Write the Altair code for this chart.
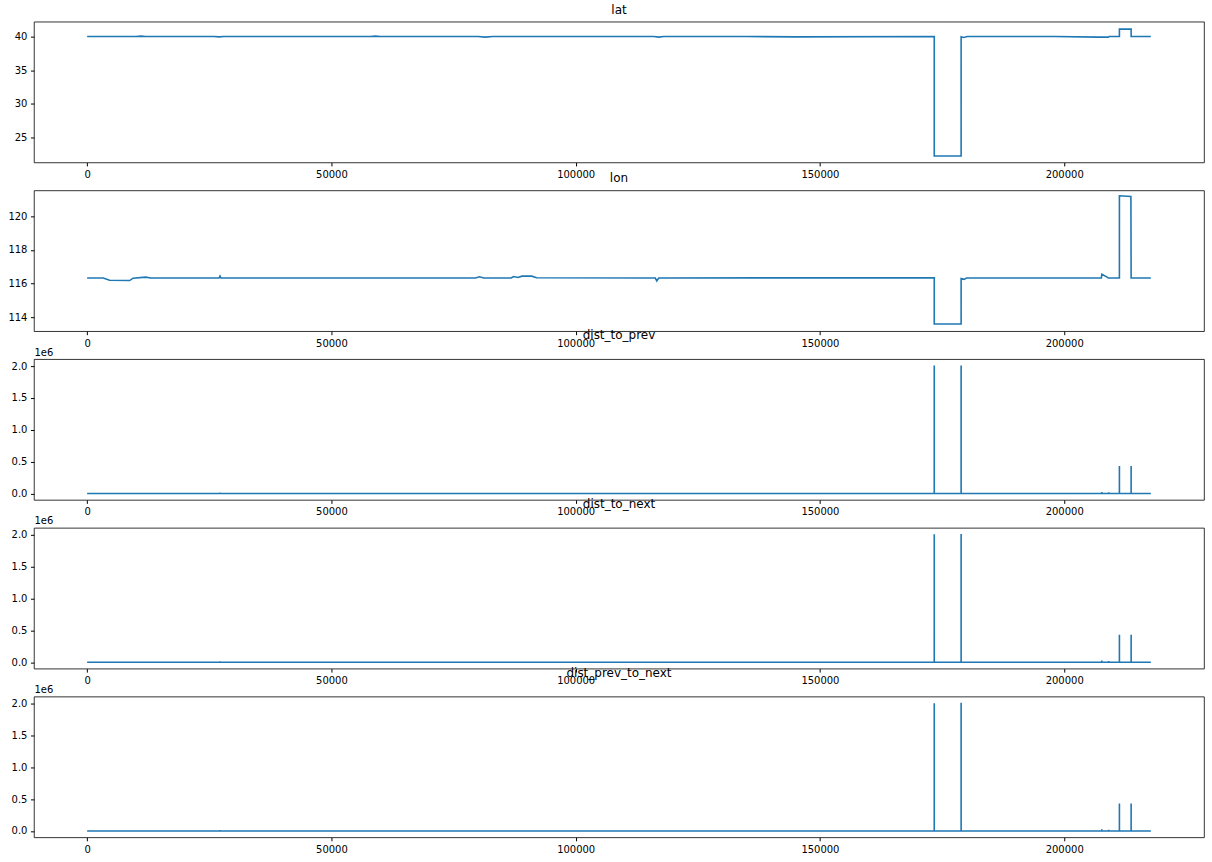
import altair as alt
import pandas as pd

# ---- data ----
lat_idx = [0, 10000, 11000, 12000, 26000, 27000, 28000, 58000, 59000, 60000, 80000, 81500, 83000,
           116000, 117000, 118000, 135000, 145000, 173399, 173400, 178900, 178901, 179400, 180200,
           198000, 207000, 209000, 209200, 211299, 211300, 213699, 213700, 217730]
lat_val = [40.0, 40.0, 40.06, 40.0, 40.0, 39.95, 40.0, 40.0, 40.06, 40.0, 40.0, 39.9, 40.0,
           40.0, 39.9, 40.0, 40.0, 39.95, 40.0, 22.26, 22.26, 39.95, 39.85, 40.0,
           40.0, 39.9, 39.9, 40.0, 40.0, 41.1, 41.1, 40.0, 40.0]

lon_idx = [0, 3300, 4600, 8700, 9400, 12000, 13000, 27000, 27200, 27400, 79500, 80300, 81200,
           86800, 87300, 88200, 89000, 91000, 92000, 116300, 116600, 117000, 173399, 173400,
           178900, 178901, 179500, 180000, 207600, 207700, 208700, 209000, 211299, 211300,
           213650, 213700, 217730]
lon_val = [116.33, 116.33, 116.2, 116.18, 116.32, 116.38, 116.33, 116.33, 116.45, 116.33, 116.33, 116.4, 116.33,
           116.33, 116.42, 116.36, 116.44, 116.44, 116.35, 116.33, 116.16, 116.33, 116.35, 113.6,
           113.6, 116.3, 116.25, 116.33, 116.33, 116.55, 116.4, 116.33, 116.33, 121.22,
           121.18, 116.33, 116.33]

dist_idx = [0, 27199, 27200, 27201, 173399, 173400, 173401, 178899, 178900, 178901,
            207699, 207700, 207701, 209099, 209100, 209101, 211299, 211300, 211301,
            213699, 213700, 213701, 217730]
dist_prev_val = [0, 0, 15000, 0, 0, 2010000, 0, 0, 2010000, 0,
                 0, 25000, 0, 0, 20000, 0, 0, 430000, 0,
                 0, 430000, 0, 0]
dist_next_val = [0, 0, 15000, 0, 0, 2010000, 0, 0, 2015000, 0,
                 0, 25000, 0, 0, 20000, 0, 0, 430000, 0,
                 0, 430000, 0, 0]
dist_pn_val = [0, 0, 15000, 0, 0, 2005000, 0, 0, 2015000, 0,
               0, 25000, 0, 0, 20000, 0, 0, 430000, 0,
               0, 430000, 0, 0]

x_ticks = [0, 50000, 100000, 150000, 200000]
x_domain = [-10886, 228616]

FONT = "DejaVu Sans"
BLUE = "#1f77b4"
W, H = 1172, 141


def panel(name, idx, val, y_domain, y_ticks, sci=False):
    df = pd.DataFrame({"idx": idx, "val": val})
    yaxis_kw = dict(values=y_ticks, grid=False, domain=False, tickSize=3.5, tickColor="black",
                    labelColor="black", labelFontSize=10, labelFont=FONT, labelPadding=3.5)
    if sci:
        yaxis_kw.update(labelExpr="format(datum.value/1000000, '.1f')", title="1e6",
                        titleAngle=0, titleAlign="left", titleBaseline="bottom",
                        titleX=0, titleY=-2, titleFontSize=10, titleFontWeight="normal",
                        titleFont=FONT, titleColor="black")
    else:
        yaxis_kw.update(title=None)
    return alt.Chart(df).mark_line(color=BLUE, strokeWidth=1.6, clip=True).encode(
        x=alt.X("idx:Q", scale=alt.Scale(domain=x_domain, nice=False, zero=False),
                axis=alt.Axis(values=x_ticks, format="d", title=None, grid=False, domain=False,
                              tickSize=3.5, tickColor="black", labelColor="black",
                              labelFontSize=10, labelFont=FONT, labelPadding=3.5, labelFlush=False)),
        y=alt.Y("val:Q", scale=alt.Scale(domain=y_domain, nice=False, zero=False),
                axis=alt.Axis(**yaxis_kw)),
    ).properties(width=W, height=H,
                 title=alt.TitleParams(name, fontSize=12, font=FONT, fontWeight="normal",
                                       color="black", anchor="middle", offset=5))


charts = [
    panel("lat", lat_idx, lat_val, [21.3, 42.2], [25, 30, 35, 40]),
    panel("lon", lon_idx, lon_val, [113.17, 121.54], [114, 116, 118, 120]),
    panel("dist_to_prev", dist_idx, dist_prev_val, [-100500, 2110500],
          [0, 500000, 1000000, 1500000, 2000000], sci=True),
    panel("dist_to_next", dist_idx, dist_next_val, [-100500, 2110500],
          [0, 500000, 1000000, 1500000, 2000000], sci=True),
    panel("dist_prev_to_next", dist_idx, dist_pn_val, [-100500, 2110500],
          [0, 500000, 1000000, 1500000, 2000000], sci=True),
]

chart = alt.vconcat(*charts, spacing=28, bounds="flush").properties(
    padding={"left": 7, "top": 2, "right": 7, "bottom": 5},
    background="white",
).configure_view(stroke="black", strokeWidth=0.8)

chart.save("out.html", embed_options={"renderer": "svg", "actions": False})
